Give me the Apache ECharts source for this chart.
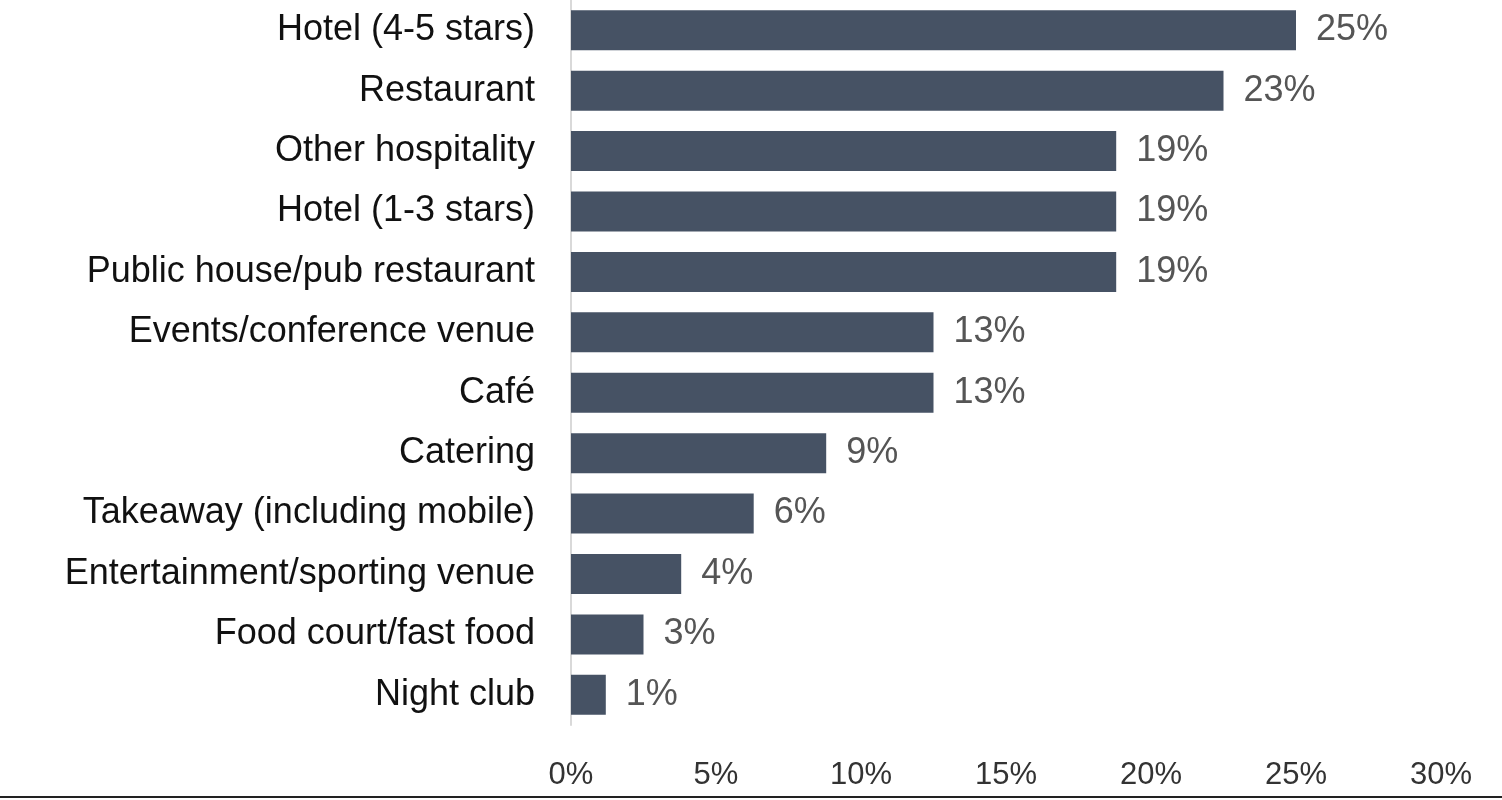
<!DOCTYPE html>
<html><head><meta charset="utf-8">
<script src="https://cdn.jsdelivr.net/npm/echarts@6/dist/echarts.min.js"></script>
<style>html,body{margin:0;padding:0;background:#fff}#c{width:1502px;height:800px}</style>
</head><body><div id="c"></div>
<script>
const categories = ["Hotel (4-5 stars)","Restaurant","Other hospitality","Hotel (1-3 stars)","Public house/pub restaurant","Events/conference venue","Café","Catering","Takeaway (including mobile)","Entertainment/sporting venue","Food court/fast food","Night club"];
const values = [25.0,22.5,18.8,18.8,18.8,12.5,12.5,8.8,6.3,3.8,2.5,1.2];
const valueLabels = ["25%","23%","19%","19%","19%","13%","13%","9%","6%","4%","3%","1%"];
const xTicks = [0,5,10,15,20,25,30];
const chart = echarts.init(document.getElementById('c'));
chart.setOption({
  animation:false,
  grid:{left:571,right:61,top:-9,bottom:75,containLabel:false},
  xAxis:{type:'value',min:0,max:30,interval:5,splitLine:{show:false},axisLine:{show:false},axisTick:{show:false},
    axisLabel:{formatter:v=>v+'%',fontSize:31,color:'#333',fontFamily:'Liberation Sans, Arial',margin:35}},
  yAxis:{type:'category',inverse:true,data:categories,axisTick:{show:false},
    axisLine:{lineStyle:{color:'#d9d9d9',width:2}},
    axisLabel:{fontSize:36,color:'#111',fontFamily:'Liberation Sans, Arial',margin:36}},
  series:[{type:'bar',data:values,barWidth:40,itemStyle:{color:'#465264'},
    label:{show:true,position:'right',distance:20,fontSize:36,color:'#555',fontFamily:'Liberation Sans, Arial',
      formatter:p=>valueLabels[p.dataIndex]}}],
  graphic:[{type:'rect',shape:{x:0,y:796,width:1502,height:2},style:{fill:'#222'}}]
});
</script></body></html>
